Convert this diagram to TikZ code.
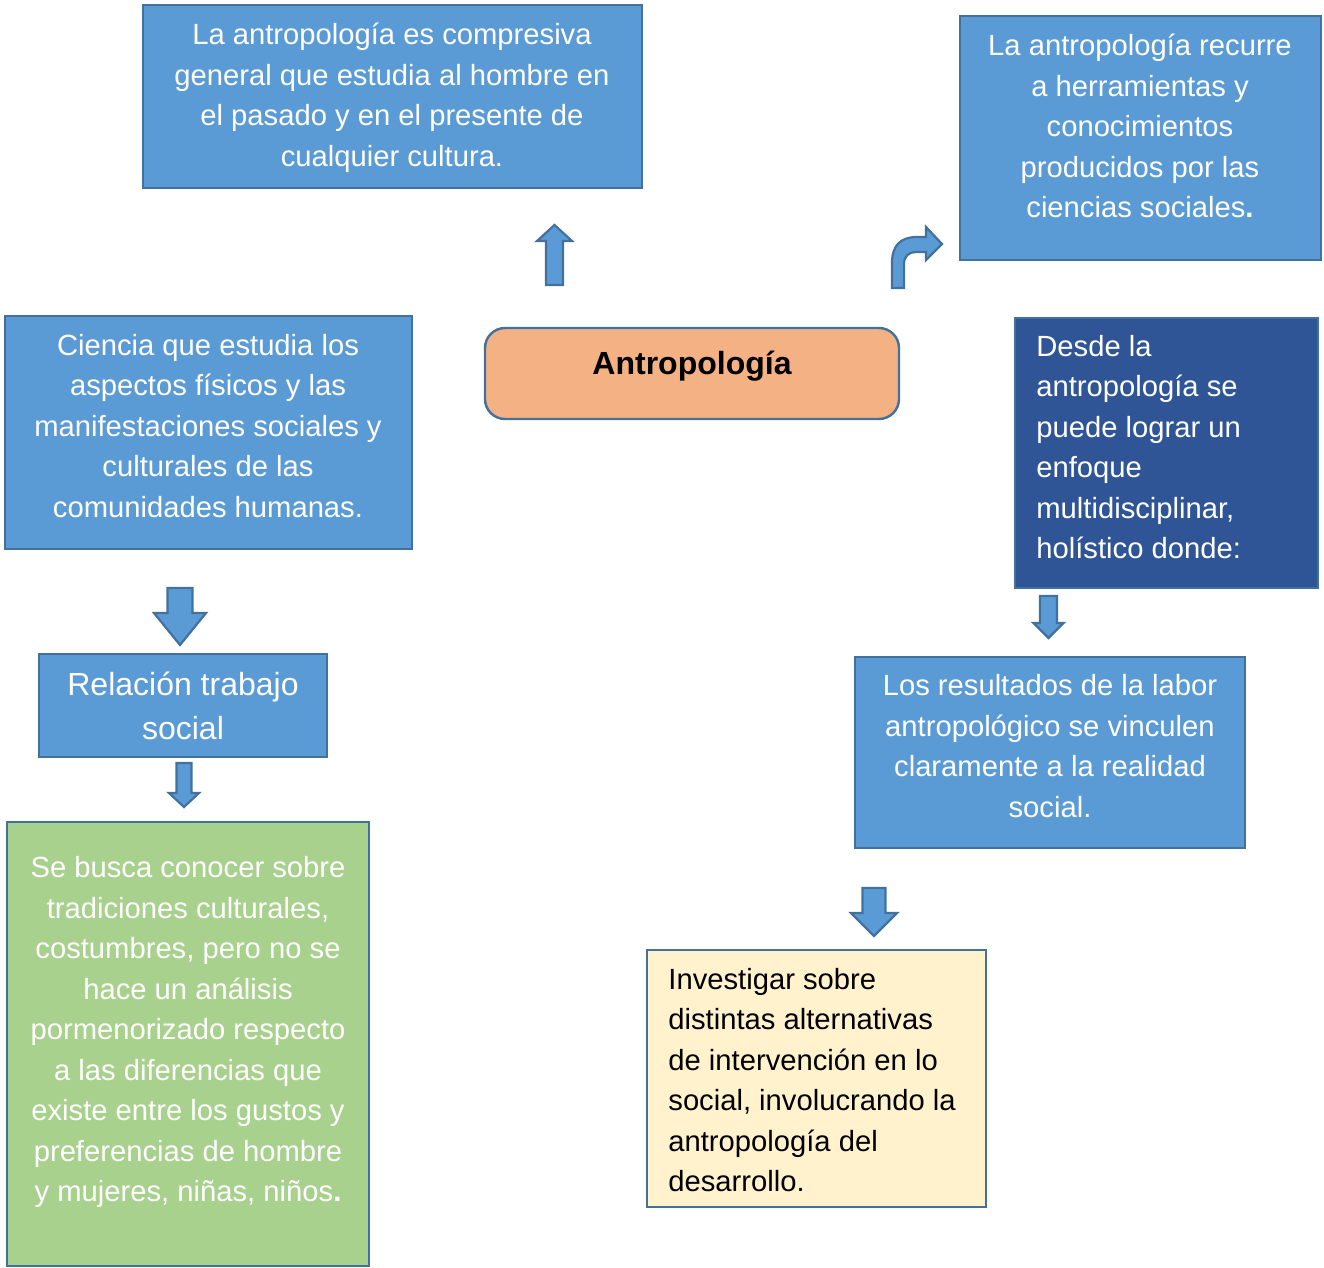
\documentclass[tikz,border=0pt]{standalone}
\usepackage{fontspec}
\setmainfont{Liberation Sans}
\usetikzlibrary{fit}

\definecolor{boxblue}{HTML}{5B9BD5}
\definecolor{edgeblue}{HTML}{41719C}
\definecolor{darkblue}{HTML}{2F5597}
\definecolor{boxorange}{HTML}{F4B183}
\definecolor{boxgreen}{HTML}{A9D18E}
\definecolor{boxyellow}{HTML}{FFF2CC}

% block arrow: centre x, shaft end, head base, tip, half shaft, half head
\newcommand{\blockarrow}[6]{%
\draw[blockfill] (#1-#5,#2) -- (#1+#5,#2) -- (#1+#5,#3) -- (#1+#6,#3) -- (#1,#4)
  -- (#1-#6,#3) -- (#1-#5,#3) -- cycle;}

\begin{document}
\begin{tikzpicture}[x=0.5pt,y=-0.5pt,
  box/.style={draw=edgeblue,line width=1.2pt,inner sep=0pt},
  txt/.style={inner sep=0pt,text=white,align=center,font=\fontsize{14.6}{20.25}\selectfont},
  blockfill/.style={draw=edgeblue,fill=boxblue,line width=1.1pt,line join=miter}]
\useasboundingbox (0,0) rectangle (1324,1268);

%boxes
\node[box,fill=boxblue,fit={(143,5) (642,188)}] (general) {};
\node[box,fill=boxblue,fit={(960,16) (1321,260)}] (recurre) {};
\node[box,fill=boxorange,rounded corners=10pt,fit={(485,328) (899,419)}] (antro) {};
\node[box,fill=boxblue,fit={(5,316) (412,549)}] (ciencia) {};
\node[box,fill=darkblue,fit={(1015,318) (1318,588)}] (desde) {};
\node[box,fill=boxblue,fit={(39,654) (327,757)}] (relacion) {};
\node[box,fill=boxgreen,fit={(7,822) (369,1266)}] (busca) {};
\node[box,fill=boxblue,fit={(855,657) (1245,848)}] (resultados) {};
\node[box,fill=boxyellow,fit={(647,950) (986,1207)}] (investigar) {};

%texts
\node[txt] (generaltxt) at (392,98) {La antropología es compresiva\\general que estudia al hombre en\\el pasado y en el presente de\\cualquier cultura.};
\node[txt] (recurretxt) at (1140,126) {La antropología recurre\\a herramientas y\\conocimientos\\producidos por las\\ciencias sociales\textbf{.}};
\node[txt,text=black,font=\fontsize{16}{22}\selectfont\bfseries] (antrotxt) at (692,366) {Antropología};
\node[txt] (cienciatxt) at (208,426) {Ciencia que estudia los\\aspectos físicos y las\\manifestaciones sociales y\\culturales de las\\comunidades humanas.};
\node[txt,align=left,anchor=west] (desdetxt) at (1036,447) {Desde la\\antropología se\\puede lograr un\\enfoque\\multidisciplinar,\\holístico donde:};
\node[txt,font=\fontsize{16}{22}\selectfont] (relaciontxt) at (183,706) {Relación trabajo\\social};
\node[txt] (buscatxt) at (188,1032) {Se busca conocer sobre\\tradiciones culturales,\\costumbres, pero no se\\hace un análisis\\pormenorizado respecto\\a las diferencias que\\existe entre los gustos y\\preferencias de hombre\\y mujeres, niñas, niños\textbf{.}};
\node[txt] (resultadostxt) at (1050,746) {Los resultados de la labor\\antropológico se vinculen\\claramente a la realidad\\social.};
\node[txt,text=black,align=left,anchor=west] (investigartxt) at (668,1080) {Investigar sobre\\distintas alternativas\\de intervención en lo\\social, involucrando la\\antropología del\\desarrollo.};

%arrows
\blockarrow{554.5}{285}{241}{225}{8.5}{17.5}
\blockarrow{180}{588}{613}{645}{12.5}{26}
\blockarrow{184}{763}{793}{807}{7.5}{15}
\blockarrow{1048.5}{596}{623}{638}{8.5}{15}
\blockarrow{874}{888}{913}{936}{11.5}{23}
\draw[blockfill] (892,288) -- (892,263) .. controls (892,246) and (900,237) .. (917,237)
  -- (926,237) -- (926,227) -- (942,244) -- (926,260) -- (926,252) -- (916,252)
  .. controls (909,252) and (904,256) .. (904,264) -- (904,288) -- cycle;

\end{tikzpicture}
\end{document}
